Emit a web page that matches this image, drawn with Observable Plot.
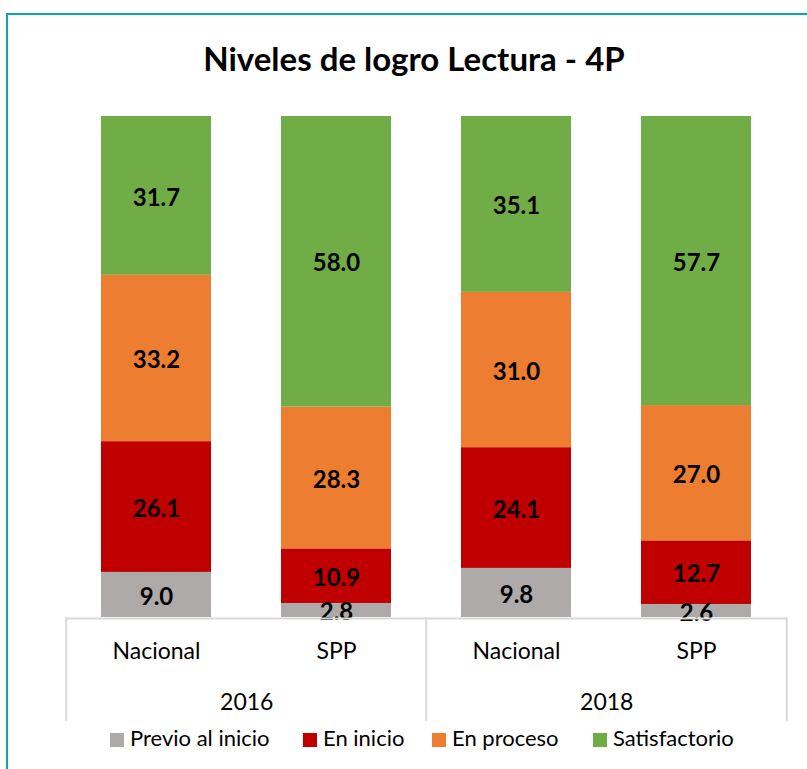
<!DOCTYPE html>
<html>
<head>
<meta charset="utf-8">
<script src="https://cdn.jsdelivr.net/npm/d3@7"></script>
<script src="https://cdn.jsdelivr.net/npm/@observablehq/plot@0.6"></script>
<style>
  html, body { margin: 0; padding: 0; background: #fff; }
  #wrap { position: relative; width: 807px; height: 769px; overflow: hidden; font-family: Lato, "Open Sans", sans-serif; }
  #border { position: absolute; left: 6px; top: 13px; width: 900px; height: 900px; border-left: 2px solid #0fa3b6; border-top: 2px solid #0fa3b6; }
  #title { position: absolute; left: 0; width: 828px; top: 38px; line-height: 40px; text-align: center; font-size: 33px; font-weight: bold; color: #000; }
  #chart { position: absolute; left: 0; top: 0; }
  #legend { position: absolute; top: 726px; left: 0; width: 807px; height: 24px; }
  .item { position: absolute; top: 0; font-size: 22px; color: #000; line-height: 24px; white-space: nowrap; }
  .sw { display: inline-block; width: 14px; height: 14px; margin-right: 6px; vertical-align: -1px; }
</style>
</head>
<body>
<div id="wrap">
  <div id="border"></div>
  <div id="title">Niveles de logro Lectura - 4P</div>
  <div id="chart"></div>
  <div id="legend"></div>
</div>
<script>
const categories = ["Nacional", "SPP", "Nacional", "SPP"];
const years = ["2016", "2016", "2018", "2018"];
const levels = ["Previo al inicio", "En inicio", "En proceso", "Satisfactorio"];
const colors = ["#aeaaaa", "#c00000", "#ed7d31", "#70ad47"];
const previo = [9.0, 2.8, 9.8, 2.6];
const inicio = [26.1, 10.9, 24.1, 12.7];
const proceso = [33.2, 28.3, 31.0, 27.0];
const satisfactorio = [31.7, 58.0, 35.1, 57.7];
const series = [previo, inicio, proceso, satisfactorio];

const keys = categories.map((c, i) => years[i] + " " + c);
const rows = [];
levels.forEach((lv, j) => keys.forEach((k, i) => rows.push({key: k, level: lv, value: series[j][i]})));
const catRows = keys.map((k, i) => ({key: k, label: categories[i]}));
const yearRows = keys.filter((k, i) => i % 2 === 0).map((k, i) => ({key: k, label: years[i * 2]}));

const W = 807, H = 769;
const plot = Plot.plot({
  width: W, height: H,
  marginTop: 116, marginBottom: 152, marginLeft: 65, marginRight: 20,
  style: {fontFamily: "Lato, 'Open Sans', sans-serif", background: "transparent"},
  x: {domain: keys, paddingInner: 0.39, paddingOuter: 0.195, axis: null},
  y: {domain: [0, 100], axis: null},
  color: {domain: levels, range: colors},
  marks: [
    Plot.barY(rows, Plot.stackY({x: "key", y: "value", fill: "level", order: levels})),
    Plot.text(rows, Plot.stackY({x: "key", y: "value", z: "level", order: levels, text: d => d.value.toFixed(1), fontSize: 24, fontWeight: "bold", fill: "#000", dy: 2})),
    Plot.ruleY([0], {stroke: "#d9d9d9", strokeWidth: 2, dy: 1}),
    Plot.ruleX([keys[0], keys[2]], {x: d => d, dx: -90.25, stroke: "#d9d9d9", strokeWidth: 2, insetTop: 501, insetBottom: -104}),
    Plot.ruleX([keys[3]], {x: d => d, dx: 90.25, stroke: "#d9d9d9", strokeWidth: 2, insetTop: 501, insetBottom: -104}),
    Plot.text(catRows, {x: "key", text: "label", frameAnchor: "bottom", dy: 41, fontSize: 23, fill: "#000"}),
    Plot.text(yearRows, {x: "key", text: "label", dx: 90.25, frameAnchor: "bottom", dy: 92, fontSize: 23, fill: "#000"})
  ]
});
document.getElementById("chart").appendChild(plot);

const legendX = [110, 303, 432, 593];
const leg = document.getElementById("legend");
levels.forEach((lv, i) => {
  const d = document.createElement("div");
  d.className = "item";
  d.style.left = legendX[i] + "px";
  d.innerHTML = `<span class="sw" style="background:${colors[i]}"></span>${lv}`;
  leg.appendChild(d);
});
</script>
</body>
</html>
